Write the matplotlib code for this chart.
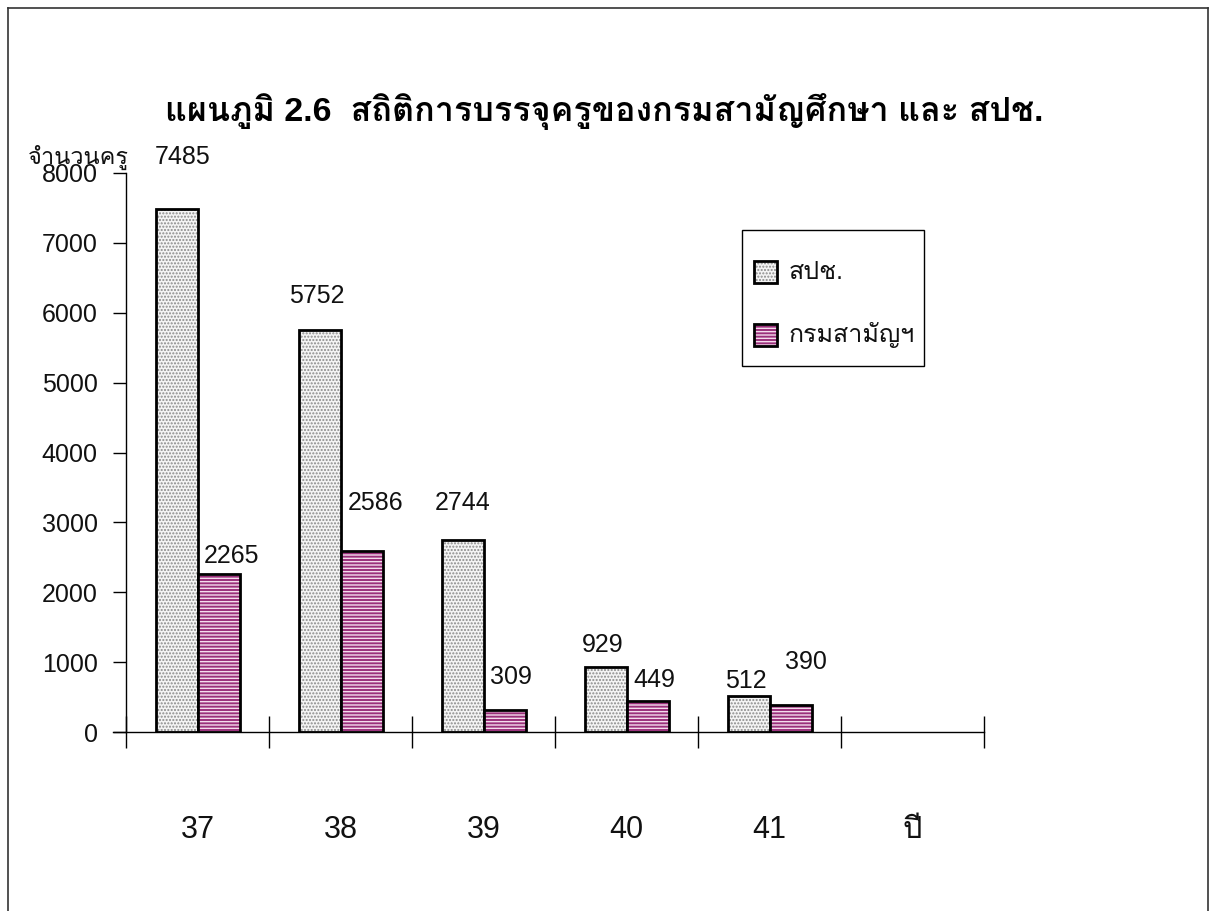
import matplotlib
matplotlib.use("Agg")
import matplotlib.pyplot as plt
from matplotlib.patches import Rectangle
from matplotlib.lines import Line2D
import numpy as np

plt.rcParams['font.family'] = ['Liberation Sans', 'Loma', 'DejaVu Sans']
plt.rcParams['hatch.linewidth'] = 1.0

# data
years = ['37', '38', '39', '40', '41', 'ปี']
spc = [7485, 5752, 2744, 929, 512]        # สปช.
samanya = [2265, 2586, 309, 449, 390]     # กรมสามัญฯ

title = 'แผนภูมิ 2.6  สถิติการบรรจุครูของกรมสามัญศึกษา และ สปช.'
ylabel = 'จำนวนครู'
series_names = ['สปช.', 'กรมสามัญฯ']

# where the value labels sit relative to the bar top (pixels), as in the original
spc_lbl = [(6, 52), (-3, 34), (0, 37), (-3, 22), (-3, 15)]
sam_lbl = [(13, 18), (14, 48), (6, 33), (7, 21), (15, 43)]

W, H = 1215, 911
fig = plt.figure(figsize=(W / 100, H / 100), dpi=100)
ax = fig.add_axes([126 / W, 1 - 732 / H, 858 / W, 559 / H])

n = len(spc)
x = np.arange(n) + 0.5
w = 42 / 143

c1_face, c1_hatch = '#f4f4f4', '#8a8a8a'
c2_face, c2_hatch = '#9a2f7a', '#f4dcec'
styles = [(c1_face, c1_hatch, '.....'), (c2_face, c2_hatch, '-----')]

# pattern fills, then black outlines on top
for off, vals, (face, hc, hatch) in [(-w / 2, spc, styles[0]), (w / 2, samanya, styles[1])]:
    ax.bar(x + off, vals, w, color=face, hatch=hatch, edgecolor=hc, linewidth=0)
    ax.bar(x + off, vals, w, fill=False, edgecolor='black', linewidth=2)

for off, vals, offs in [(-w / 2, spc, spc_lbl), (w / 2, samanya, sam_lbl)]:
    for xi, v, (dx, dy) in zip(x + off, vals, offs):
        ax.annotate(str(v), (xi, v), xytext=(dx, dy), textcoords='offset pixels',
                    ha='center', va='center', fontsize=18, color='#111111')

ax.set_xlim(0, len(years))
ax.set_ylim(0, 8000)
ax.set_yticks(np.arange(0, 8001, 1000))
ax.tick_params(axis='y', direction='out', length=9.5, width=1, labelsize=18, pad=11,
               labelcolor='#111111')

ax.set_xticks(np.arange(len(years)) + 0.5)
ax.set_xticklabels(years)
ax.tick_params(axis='x', which='major', length=0, labelsize=22, pad=60, labelcolor='#111111')
ax.set_xticks(np.arange(len(years) + 1), minor=True)
ax.tick_params(axis='x', which='minor', direction='inout', length=23, width=1)

for s in ['top', 'right']:
    ax.spines[s].set_visible(False)
ax.spines['left'].set_linewidth(1)
ax.spines['bottom'].set_linewidth(1)
ax.spines['bottom'].set_bounds(-13 / 143, len(years))

fig.text(28 / W, 1 - 157 / H, ylabel, fontsize=17, ha='left', va='center', color='#111111')
fig.text(604 / W, 1 - 112 / H, title, fontsize=24.5, fontweight='bold', ha='center', va='center')

# legend box drawn by hand to match the original placement
fig.add_artist(Rectangle((742 / W, 1 - 366 / H), 182 / W, 136 / H, transform=fig.transFigure,
                         facecolor='white', edgecolor='black', linewidth=1))
for (face, hc, hatch), name, yc in zip(styles, series_names, [272, 335]):
    fig.add_artist(Rectangle((754 / W, 1 - (yc + 11) / H), 23 / W, 22 / H, transform=fig.transFigure,
                             facecolor=face, edgecolor=hc, hatch=hatch, linewidth=0))
    fig.add_artist(Rectangle((754 / W, 1 - (yc + 11) / H), 23 / W, 22 / H, transform=fig.transFigure,
                             fill=False, edgecolor='black', linewidth=2))
    fig.text(789 / W, 1 - yc / H, name, fontsize=18, ha='left', va='center', color='#111111')

# outer frame of the chart area (bottom edge runs off the page)
bx0, bx1, by1 = 8 / W, 1208 / W, 1 - 8 / H
for xs, ys in [([bx0, bx0], [-0.1, by1]), ([bx0, bx1], [by1, by1]), ([bx1, bx1], [by1, -0.1])]:
    fig.add_artist(Line2D(xs, ys, color='#333333', linewidth=1.2))

fig.savefig('out.png', dpi=100)
